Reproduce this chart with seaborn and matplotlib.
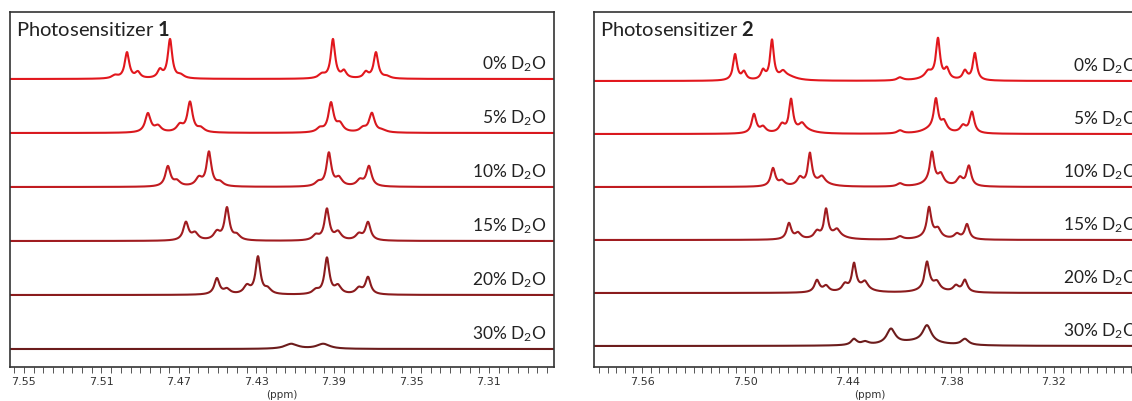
import numpy as np
import pandas as pd
import matplotlib
matplotlib.use("Agg")
import matplotlib.pyplot as plt
from matplotlib.ticker import MultipleLocator
import seaborn as sns

# ---------------- data (peak lists) ----------------
# each peak: (chemical shift in ppm, height, full width at half height in ppm)
labels = ["0% D$_2$O", "5% D$_2$O", "10% D$_2$O", "15% D$_2$O", "20% D$_2$O", "30% D$_2$O"]
colors = ["#E2171D", "#D9181E", "#C11B20", "#A01C20", "#8A1B1D", "#6C1C1C"]

ps1_d2o_0 = [(7.5030, 3, 0.004), (7.4968, 26, 0.0028), (7.4912, 6, 0.003), (7.4798, 8, 0.003),
             (7.4746, 39, 0.0027), (7.4690, 3, 0.004), (7.3962, 4, 0.004), (7.3905, 39, 0.0027),
             (7.3848, 7, 0.003), (7.3735, 6, 0.003), (7.3683, 26, 0.0028), (7.3626, 2, 0.004)]
ps1_d2o_5 = [(7.4860, 19, 0.0034), (7.4808, 6, 0.004), (7.4695, 7, 0.004), (7.4643, 30, 0.0032),
             (7.4586, 4, 0.004), (7.3972, 4, 0.004), (7.3915, 29, 0.0032), (7.3869, 8, 0.004),
             (7.3750, 4, 0.004), (7.3704, 19, 0.0034), (7.3650, 2, 0.005)]
ps1_d2o_10 = [(7.4757, 20, 0.0032), (7.4710, 5, 0.004), (7.4597, 8, 0.004), (7.4545, 34, 0.003),
              (7.4488, 4, 0.004), (7.3980, 4, 0.004), (7.3926, 33, 0.003), (7.3874, 8, 0.004),
              (7.3766, 6, 0.004), (7.3719, 20, 0.0032)]
ps1_d2o_15 = [(7.4664, 18, 0.0032), (7.4617, 7, 0.004), (7.4504, 8, 0.004), (7.4452, 32, 0.003),
              (7.4401, 5, 0.004), (7.3993, 5, 0.004), (7.3936, 31, 0.003), (7.3879, 8, 0.004),
              (7.3771, 6, 0.004), (7.3724, 18, 0.0032)]
ps1_d2o_20 = [(7.4504, 16, 0.0032), (7.4452, 5, 0.004), (7.4349, 8, 0.004), (7.4292, 37, 0.003),
              (7.4241, 5, 0.004), (7.3993, 4, 0.004), (7.3936, 36, 0.003), (7.3879, 8, 0.004),
              (7.3771, 6, 0.004), (7.3724, 17, 0.0032)]
ps1_d2o_30 = [(7.4120, 5, 0.008), (7.3955, 5, 0.008)]

ps2_d2o_0 = [(7.5058, 26, 0.0028), (7.5006, 8, 0.003), (7.4895, 9, 0.003), (7.4843, 39, 0.0026),
             (7.4779, 6, 0.004), (7.4750, 4, 0.012), (7.4097, 3, 0.004), (7.3920, 4, 0.012),
             (7.3934, 5, 0.004), (7.3876, 39, 0.0028), (7.3824, 10, 0.0032), (7.3719, 9, 0.0032),
             (7.3661, 27, 0.0028)]
ps2_d2o_5 = [(7.4948, 19, 0.0032), (7.4895, 6, 0.004), (7.4785, 8, 0.004), (7.4732, 32, 0.0028),
             (7.4668, 6, 0.004), (7.4660, 4, 0.012), (7.4097, 3, 0.004), (7.3920, 4, 0.012),
             (7.3888, 31, 0.003), (7.3841, 10, 0.004), (7.3730, 7, 0.004), (7.3678, 21, 0.0032)]
ps2_d2o_10 = [(7.4837, 18, 0.0032), (7.4785, 5, 0.004), (7.4680, 8, 0.004), (7.4622, 31, 0.0028),
              (7.4552, 6, 0.004), (7.4560, 4, 0.012), (7.4097, 3, 0.004), (7.3920, 4, 0.012),
              (7.3911, 30, 0.003), (7.3859, 10, 0.004), (7.3748, 8, 0.004), (7.3696, 20, 0.0032)]
ps2_d2o_15 = [(7.4744, 16, 0.0032), (7.4691, 6, 0.004), (7.4581, 7, 0.004), (7.4528, 28, 0.0028),
              (7.4464, 6, 0.004), (7.4470, 4, 0.012), (7.4097, 3, 0.004), (7.3920, 4, 0.012),
              (7.3928, 28, 0.003), (7.3876, 8, 0.004), (7.3765, 5, 0.004), (7.3707, 15, 0.0032)]
ps2_d2o_20 = [(7.4581, 12, 0.0035), (7.4528, 6, 0.004), (7.4418, 7, 0.004), (7.4365, 26, 0.003),
              (7.4301, 7, 0.004), (7.4320, 4, 0.012), (7.3920, 5, 0.012), (7.3940, 26, 0.0032),
              (7.3882, 7, 0.004), (7.3771, 6, 0.004), (7.3719, 12, 0.0034)]
ps2_d2o_30 = [(7.4365, 6, 0.004), (7.4300, 3, 0.005), (7.4150, 15, 0.006), (7.3940, 17, 0.006),
              (7.3719, 6, 0.005), (7.4000, 4, 0.03)]

ps1_traces = [ps1_d2o_0, ps1_d2o_5, ps1_d2o_10, ps1_d2o_15, ps1_d2o_20, ps1_d2o_30]
ps2_traces = [ps2_d2o_0, ps2_d2o_5, ps2_d2o_10, ps2_d2o_15, ps2_d2o_20, ps2_d2o_30]

ps1_xlim = (7.5572, 7.2764)
ps2_xlim = (7.5880, 7.2670)
ps1_ticks = [7.55, 7.51, 7.47, 7.43, 7.39, 7.35, 7.31]
ps2_ticks = [7.56, 7.50, 7.44, 7.38, 7.32]

# ---------------- style ----------------
sns.set_style("ticks")
plt.rcParams["font.family"] = ["Lato", "DejaVu Sans"]
plt.rcParams["mathtext.fontset"] = "custom"
plt.rcParams["mathtext.rm"] = "Lato"
plt.rcParams["mathtext.bf"] = "Lato:bold"
plt.rcParams["mathtext.it"] = "Lato:italic"

W, H = 1132, 401
fig = plt.figure(figsize=(W / 100, H / 100), dpi=100)


def spectrum(x, peaks):
    y = np.zeros_like(x)
    for c, h, w in peaks:
        g = w / 2.0
        y += h * g * g / ((x - c) ** 2 + g * g)
    return y


def panel(rect, traces, xlim, ticks, title, step, bottom_pad):
    ax = fig.add_axes(rect)
    x = np.linspace(min(xlim), max(xlim), 4000)
    n = len(traces)
    for i, (peaks, col) in enumerate(zip(traces, colors)):
        off = (n - 1 - i) * step
        df = pd.DataFrame({"ppm": x, "y": off + spectrum(x, peaks)})
        sns.lineplot(data=df, x="ppm", y="y", ax=ax, color=col, lw=1.5,
                     estimator=None, sort=False, legend=False)
        ax.text(0.987, off + 10, labels[i], transform=ax.get_yaxis_transform(),
                ha="right", va="baseline", fontsize=12.5, color="#222222")
    ax.set_xlim(*xlim)
    ax.set_ylim(-bottom_pad, 355 - bottom_pad)
    ax.set_yticks([])
    ax.set_ylabel("")
    ax.set_xticks(ticks)
    ax.set_xticklabels([f"{t:.2f}" for t in ticks], fontfamily="DejaVu Sans", fontsize=8,
                       color="#333333")
    ax.xaxis.set_minor_locator(MultipleLocator(0.005))
    ax.tick_params(axis="x", which="both", direction="out", length=4, width=0.7,
                   color="#555555", pad=3)
    ax.set_xlabel("(ppm)", fontfamily="DejaVu Sans", fontsize=7.5, labelpad=2, color="#333333")
    for s in ax.spines.values():
        s.set_color("#333333")
        s.set_linewidth(1.2)
    ax.text(0.011, 0.978, title, transform=ax.transAxes, ha="left", va="top",
            fontsize=14.5, color="#222222")
    return ax


panel([10 / W, 34 / H, 544 / W, 355 / H], ps1_traces, ps1_xlim, ps1_ticks,
      "Photosensitizer $\\mathbf{1}$", 54, 18)
panel([594 / W, 34 / H, 551 / W, 355 / H], ps2_traces, ps2_xlim, ps2_ticks,
      "Photosensitizer $\\mathbf{2}$", 53, 21)

fig.savefig("out.png", dpi=100)
